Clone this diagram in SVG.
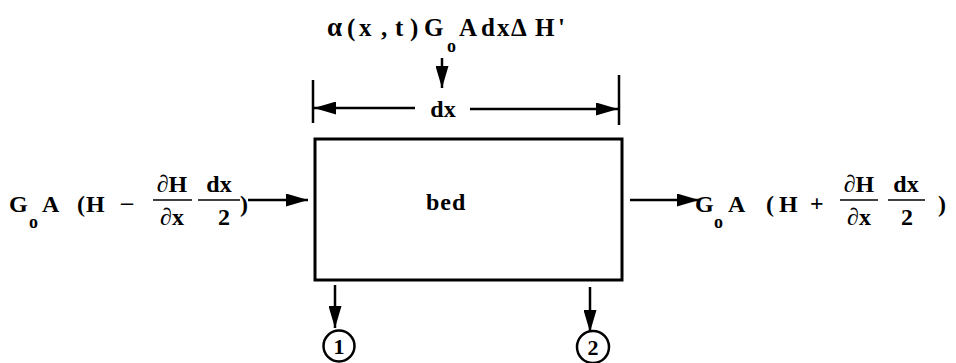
<svg xmlns="http://www.w3.org/2000/svg" width="956" height="363" viewBox="0 0 956 363">
<style>
text{font-family:"Liberation Serif","Times New Roman",serif;font-weight:bold;fill:#000;font-size:24px}
.t{font-size:25px}
.sub{font-size:18px}
.c{text-anchor:middle}
.ln{stroke:#000;stroke-width:2.5;fill:none}
.fr{stroke:#000;stroke-width:1.5}
</style>
<defs>
<marker id="ah" viewBox="0 0 22 13" refX="22" refY="6.5" markerWidth="22" markerHeight="13" markerUnits="userSpaceOnUse" orient="auto">
<path d="M0,0 L22,6.5 L0,13 z" fill="#000"/>
</marker>
</defs>
<g id="bed">
<rect x="315" y="139" width="307" height="141" fill="none" stroke="#000" stroke-width="3"/>
<text x="426" y="210" style="letter-spacing:1px">bed</text>
</g>
<g id="top-label">
<text class="t" y="36"><tspan x="327" style="font-size:27px">α</tspan><tspan x="347">(</tspan><tspan x="359">x</tspan><tspan x="381">,</tspan><tspan x="395">t</tspan><tspan x="410">)</tspan><tspan x="424">G</tspan><tspan x="459">A</tspan><tspan x="481">d</tspan><tspan x="497">x</tspan><tspan x="511">Δ</tspan><tspan x="535">H</tspan><tspan x="558">'</tspan></text>
<text x="447" y="52" class="sub">o</text>
</g>
<g id="left-label">
<text x="9" y="212">G</text>
<text x="29" y="228" class="sub">o</text>
<text x="42" y="212">A</text>
<text x="77" y="212">(</text>
<text x="86" y="212">H</text>
<text x="121" y="210">–</text>
<text x="172" y="192" class="c">∂H</text>
<line x1="153" y1="200" x2="192" y2="200" class="fr"/>
<text x="172" y="225" class="c">∂x</text>
<text x="219" y="192" class="c">dx</text>
<line x1="198" y1="200" x2="240" y2="200" class="fr"/>
<text x="224" y="225" class="c">2</text>
<text x="240" y="212">)</text>
</g>
<g id="right-label">
<text x="695" y="212">G</text>
<text x="714" y="228" class="sub">o</text>
<text x="728" y="212">A</text>
<text x="766" y="212">(</text>
<text x="779" y="212">H</text>
<text x="810" y="211">+</text>
<text x="859" y="192" class="c">∂H</text>
<line x1="840" y1="200" x2="878" y2="200" class="fr"/>
<text x="859" y="225" class="c">∂x</text>
<text x="906" y="192" class="c">dx</text>
<line x1="888" y1="200" x2="925" y2="200" class="fr"/>
<text x="907" y="225" class="c">2</text>
<text x="938" y="212">)</text>
</g>
<g id="dimension">
<line x1="313" y1="80" x2="313" y2="123" class="ln"/>
<line x1="619" y1="75" x2="619" y2="125" class="ln"/>
<text x="443" y="117" class="c">dx</text>
</g>
<g id="out1">
<circle cx="339" cy="346" r="15.5" fill="none" stroke="#000" stroke-width="2.5"/>
<text x="339" y="354" class="c" style="font-size:22px">1</text>
</g>
<g id="out2">
<circle cx="593" cy="347" r="16" fill="none" stroke="#000" stroke-width="2.5"/>
<text x="593" y="355" class="c" style="font-size:22px">2</text>
</g>
<g id="connectors">
<line x1="442" y1="58" x2="442" y2="88" class="ln" marker-end="url(#ah)"/>
<line x1="415" y1="108" x2="314" y2="108" class="ln" marker-end="url(#ah)"/>
<line x1="470" y1="109" x2="618" y2="109" class="ln" marker-end="url(#ah)"/>
<line x1="248" y1="200" x2="308" y2="200" class="ln" marker-end="url(#ah)"/>
<line x1="630" y1="200" x2="699" y2="200" class="ln" marker-end="url(#ah)"/>
<line x1="335" y1="285" x2="335" y2="328" class="ln" marker-end="url(#ah)"/>
<line x1="590" y1="287" x2="590" y2="332" class="ln" marker-end="url(#ah)"/>
</g>
</svg>
